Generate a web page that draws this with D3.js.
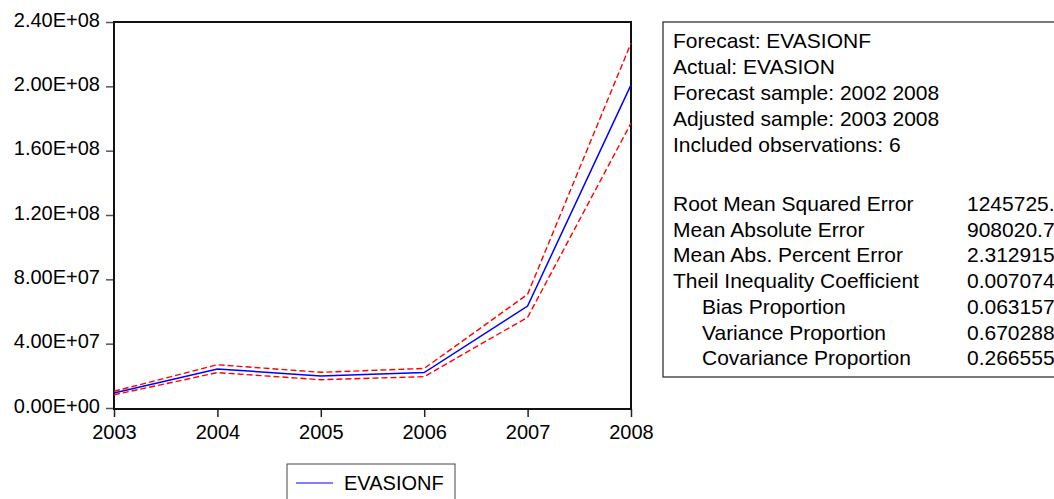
<!DOCTYPE html>
<html>
<head>
<meta charset="utf-8">
<script src="https://cdn.jsdelivr.net/npm/d3@7"></script>
<style>
body { margin: 0; background: #fff; }
text { font-family: "Liberation Sans", Arial, sans-serif; fill: #000; }
</style>
</head>
<body>
<div id="chart"></div>
<script>
// values
var years = [2003, 2004, 2005, 2006, 2007, 2008];
var forecast = [9.3e6, 24.3e6, 19.9e6, 22.0e6, 63.4e6, 200.9e6];
var upperBand = [10.4e6, 26.9e6, 22.2e6, 24.6e6, 70.7e6, 226.8e6];
var lowerBand = [8.2e6, 22.0e6, 17.6e6, 19.5e6, 56.4e6, 177.1e6];
var yTicks = [0, 4e7, 8e7, 1.2e8, 1.6e8, 2.0e8, 2.4e8];

var headerLines = ["Forecast: EVASIONF", "Actual: EVASION", "Forecast sample: 2002 2008",
                   "Adjusted sample: 2003 2008", "Included observations: 6"];
var statLabels = ["Root Mean Squared Error", "Mean Absolute Error", "Mean Abs. Percent Error",
                  "Theil Inequality Coefficient", "Bias Proportion", "Variance Proportion",
                  "Covariance Proportion"];
var statIndent = [0, 0, 0, 0, 1, 1, 1];
var statValues = ["1245725.", "908020.7", "2.312915", "0.007074", "0.063157", "0.670288", "0.266555"];
var legendName = "EVASIONF";

var width = 1054, height = 499;
var plotLeft = 114, plotRight = 631, plotTop = 22, plotBottom = 408;

var svg = d3.select("#chart").append("svg")
    .attr("width", width)
    .attr("height", height);

var xScale = d3.scaleLinear().domain([2003, 2008]).range([plotLeft, plotRight]);
var yScale = d3.scaleLinear().domain([0, 2.4e8]).range([plotBottom, plotTop]);

function sci(v) {
    if (v === 0) return "0.00E+00";
    var e = Math.floor(Math.log10(v));
    var m = v / Math.pow(10, e);
    return m.toFixed(2) + "E+" + (e < 10 ? "0" + e : e);
}

var yAxis = d3.axisLeft(yScale).tickValues(yTicks).tickFormat(sci).tickSize(8).tickPadding(6);
var xAxis = d3.axisBottom(xScale).tickValues(years).tickFormat(d3.format("d")).tickSize(8).tickPadding(6);

var gy = svg.append("g").attr("transform", "translate(" + plotLeft + ",0)").call(yAxis);
gy.select(".domain").remove();
gy.selectAll(".tick line").attr("stroke", "#555").attr("stroke-width", 1.5);
gy.selectAll(".tick text").style("font-size", "20px").attr("dy", "0.2em");

var gx = svg.append("g").attr("transform", "translate(0," + (plotBottom + 1) + ")").call(xAxis);
gx.select(".domain").remove();
gx.selectAll(".tick line").attr("stroke", "#222").attr("stroke-width", 1.5);
gx.selectAll(".tick text").style("font-size", "20px").attr("dy", "0.8em");

// frame
svg.append("rect")
    .attr("x", plotLeft).attr("y", plotTop)
    .attr("width", plotRight - plotLeft).attr("height", plotBottom + 1 - plotTop)
    .attr("fill", "none").attr("stroke", "#111").attr("stroke-width", 2);

var line = function(vals) {
    return d3.line()
        .x(function(d, i) { return xScale(years[i]); })
        .y(function(d) { return yScale(d); })(vals);
};

svg.append("path").attr("d", line(upperBand))
    .attr("fill", "none").attr("stroke", "#ff0000").attr("stroke-width", 1.4)
    .attr("stroke-dasharray", "6,3");
svg.append("path").attr("d", line(lowerBand))
    .attr("fill", "none").attr("stroke", "#ff0000").attr("stroke-width", 1.4)
    .attr("stroke-dasharray", "6,3");
svg.append("path").attr("d", line(forecast))
    .attr("fill", "none").attr("stroke", "#0000ff").attr("stroke-width", 1.5);

// legend
var lg = svg.append("g");
lg.append("rect").attr("x", 287).attr("y", 464).attr("width", 168).attr("height", 50)
    .attr("fill", "#fff").attr("stroke", "#444").attr("stroke-width", 1);
lg.append("line").attr("x1", 296).attr("x2", 333).attr("y1", 483).attr("y2", 483)
    .attr("stroke", "#0000ff").attr("stroke-width", 1.2);
lg.append("text").attr("x", 344).attr("y", 490).style("font-size", "20px").text(legendName);

// statistics box
var sb = svg.append("g");
sb.append("rect").attr("x", 663).attr("y", 22).attr("width", 420).attr("height", 355)
    .attr("fill", "#fff").attr("stroke", "#222").attr("stroke-width", 1.2);
sb.selectAll(".hdr").data(headerLines).enter().append("text")
    .attr("class", "hdr")
    .attr("x", 673)
    .attr("y", function(d, i) { return 48 + i * 26; })
    .style("font-size", "21px")
    .text(function(d) { return d; });
sb.selectAll(".lab").data(statLabels).enter().append("text")
    .attr("class", "lab")
    .attr("x", function(d, i) { return 673 + statIndent[i] * 29; })
    .attr("y", function(d, i) { return 211 + i * 25.7; })
    .style("font-size", "21px")
    .text(function(d) { return d; });
sb.selectAll(".val").data(statValues).enter().append("text")
    .attr("class", "val")
    .attr("x", 967)
    .attr("y", function(d, i) { return 211 + i * 25.7; })
    .style("font-size", "21px")
    .text(function(d) { return d; });
</script>
</body>
</html>
